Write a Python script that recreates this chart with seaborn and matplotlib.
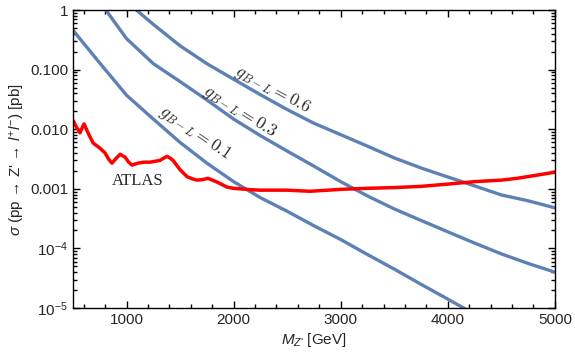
import matplotlib
matplotlib.use("Agg")
import matplotlib.pyplot as plt
import matplotlib.ticker as mticker
import numpy as np
import seaborn as sns

sns.set_theme(style="ticks")
plt.rcParams['font.family'] = ['Liberation Sans', 'DejaVu Sans']
plt.rcParams['mathtext.fontset'] = 'custom'
plt.rcParams['mathtext.rm'] = 'Liberation Sans'
plt.rcParams['mathtext.it'] = 'Liberation Sans:italic'

# Z' cross sections [pb] for three couplings
mass_01 = [500, 750, 1000, 1250, 1500, 1750, 2000, 2250, 2500, 2750, 3000,
           3250, 3500, 3750, 4000, 4250, 4500]
xs_01 = [0.457, 0.129, 0.0372, 0.0148, 0.0060, 0.0027, 0.00132, 7.1e-4,
         4.2e-4, 2.4e-4, 1.41e-4, 7.9e-5, 4.5e-5, 2.5e-5, 1.41e-5, 7.9e-6, 4.5e-6]

mass_03 = [500, 750, 1000, 1250, 1500, 1750, 2000, 2250, 2500, 2750, 3000,
           3250, 3500, 3750, 4000, 4250, 4500, 4750, 5000]
xs_03 = [5.9, 1.38, 0.331, 0.126, 0.063, 0.031, 0.0148, 0.0078, 0.0043,
         0.0024, 0.00132, 7.6e-4, 4.6e-4, 2.95e-4, 1.9e-4, 1.23e-4, 8.1e-5,
         5.6e-5, 4.0e-5]

mass_06 = [1000, 1250, 1500, 1750, 2000, 2250, 2500, 2750, 3000, 3250, 3500,
           3750, 4000, 4250, 4500, 4750, 5000]
xs_06 = [1.38, 0.575, 0.251, 0.126, 0.069, 0.038, 0.0214, 0.0126, 0.0081,
         0.0052, 0.0033, 0.00224, 0.00158, 0.00112, 7.9e-4, 6.3e-4, 4.8e-4]

# ATLAS observed limit [pb]
atlas_mass = [500, 530, 565, 585, 603, 620, 640, 687, 752, 799, 835, 864, 900,
              939, 986, 1020, 1051, 1107, 1160, 1219, 1312, 1350, 1378, 1405,
              1434, 1499, 1565, 1610, 1658, 1710, 1761, 1845, 1938, 2000,
              2059, 2150, 2246, 2500, 2713, 3000, 3250, 3500, 3750, 4000,
              4250, 4500, 4645, 4800, 5000]
atlas_xs = [0.0141, 0.0110, 0.0087, 0.0105, 0.0123, 0.0105, 0.0087, 0.0059,
            0.0048, 0.0040, 0.0031, 0.0027, 0.0032, 0.0038, 0.0034, 0.0028,
            0.0025, 0.0027, 0.0028, 0.0028, 0.0030, 0.0033, 0.0035, 0.0033,
            0.0030, 0.0021, 0.0016, 0.00148, 0.0014, 0.00143, 0.0015, 0.0013,
            0.00107, 0.00102, 0.0010, 0.00097, 0.00095, 0.00095, 0.00091,
            0.00098, 0.00102, 0.00105, 0.0011, 0.0012, 0.00132, 0.0014,
            0.0015, 0.00166, 0.0019]

ytick_vals = [1e-5, 1e-4, 1e-3, 1e-2, 1e-1, 1]
ytick_labels = [r'$10^{-5}$', r'$10^{-4}$', '0.001', '0.010', '0.100', '1']

blue = '#5e81b5'

fig = plt.figure(figsize=(5.75, 3.59), dpi=100)
ax = fig.add_axes([0.127, 0.142, 0.838, 0.830])

for m, s in [(mass_01, xs_01), (mass_03, xs_03), (mass_06, xs_06)]:
    sns.lineplot(x=m, y=s, ax=ax, color=blue, lw=2.4,
                 solid_joinstyle='round')
sns.lineplot(x=atlas_mass, y=atlas_xs, ax=ax, color='#ff0000', lw=2.5,
             solid_joinstyle='round')

ax.set_yscale('log')
ax.set_xlim(500, 5000)
ax.set_ylim(1e-5, 1)
ax.set_yticks(ytick_vals)
ax.set_yticklabels(ytick_labels)
ax.xaxis.set_major_locator(mticker.MultipleLocator(1000))
ax.xaxis.set_minor_locator(mticker.MultipleLocator(200))
ax.yaxis.set_minor_locator(mticker.LogLocator(base=10, subs=np.arange(2, 10)))
ax.yaxis.set_minor_formatter(mticker.NullFormatter())
ax.tick_params(which='both', direction='in', top=True, right=True,
               bottom=True, left=True, labelsize=11, width=1.0,
               color='black')
ax.tick_params(which='major', length=5)
ax.tick_params(which='minor', length=3)
for sp in ax.spines.values():
    sp.set_color('black')
    sp.set_linewidth(1.0)

ax.set_xlabel(r"$M_{Z\text{'}}$ [GeV]", fontsize=11, labelpad=3)
ax.set_ylabel(r"$\sigma$ (pp → Z' → $l^{+}l^{-}$) [pb]", fontsize=11, labelpad=2)

lab_kw = dict(math_fontfamily='cm', fontsize=12.5, ha='center', va='center')
ax.text(2367, 0.0455, r'$g_{B-L} = 0.6$', rotation=-28, **lab_kw)
ax.text(2059, 0.0194, r'$g_{B-L} = 0.3$', rotation=-32, **lab_kw)
ax.text(1639, 0.0086, r'$g_{B-L} = 0.1$', rotation=-34, **lab_kw)
ax.text(1107, 0.00135, 'ATLAS', family='Liberation Serif', fontsize=12,
        ha='center', va='center')

fig.savefig('out.png', dpi=100)
